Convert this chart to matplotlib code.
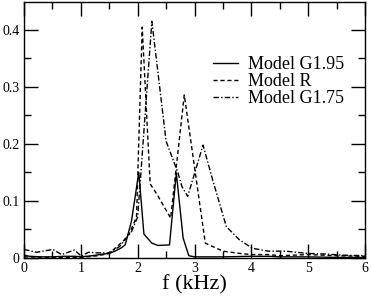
import numpy as np
import matplotlib
matplotlib.use('Agg')
import matplotlib.pyplot as plt
from matplotlib.ticker import MultipleLocator

# ═══ Data ═════════════════════════════════════════════════════════════════

f_g195 = [0.0, 0.1, 0.3, 0.5, 0.7, 0.9, 1.0, 1.2, 1.4, 1.5, 1.6, 1.7, 1.78,
          1.89, 2.02, 2.11, 2.25, 2.36, 2.56, 2.68, 2.8, 2.9, 3.0, 3.5, 4.0,
          4.3, 4.5, 5.0, 5.5, 6.0]
v_g195 = [0.005, 0.003, 0.002, 0.002, 0.003, 0.003, 0.002, 0.004, 0.007,
          0.008, 0.012, 0.017, 0.023, 0.064, 0.150, 0.042, 0.026, 0.022,
          0.023, 0.149, 0.035, 0.004, 0.002, 0.002, 0.003, 0.003, 0.002,
          0.002, 0.001, 0.001]

f_r = [0.0, 0.5, 1.0, 1.3, 1.5, 1.6, 1.75, 1.86, 1.98, 2.08, 2.22, 2.35,
       2.58, 2.82, 3.19, 3.5, 3.8, 4.0, 4.3, 4.5, 5.0, 5.5, 6.0]
v_r = [0.002, 0.001, 0.001, 0.004, 0.008, 0.017, 0.030, 0.044, 0.072,
       0.405, 0.130, 0.110, 0.070, 0.286, 0.026, 0.012, 0.008, 0.006,
       0.006, 0.004, 0.006, 0.004, 0.003]

f_g175 = [0.0, 0.22, 0.51, 0.66, 0.89, 1.01, 1.13, 1.3, 1.5, 1.68, 1.89,
          2.0, 2.25, 2.5, 2.71, 2.78, 2.88, 3.15, 3.32, 3.56, 3.79, 4.02,
          4.3, 4.6, 5.0, 5.3, 5.6, 6.0]
v_g175 = [0.015, 0.010, 0.015, 0.006, 0.014, 0.003, 0.010, 0.009, 0.009,
          0.020, 0.046, 0.072, 0.415, 0.205, 0.149, 0.125, 0.108, 0.198,
          0.137, 0.055, 0.032, 0.017, 0.012, 0.012, 0.008, 0.007, 0.005,
          0.004]

labels = ['Model G1.95', 'Model R', 'Model G1.75']

# ═══ Figure ═══════════════════════════════════════════════════════════════

plt.rcParams['font.family'] = ['Liberation Serif', 'DejaVu Serif']

fig = plt.figure(figsize=(3.71, 3.00), dpi=100)
ax = fig.add_axes([24/371, 42/300, 341/371, 256/300])

ax.plot(f_g195, v_g195, color='k', lw=1.0, ls='-', label=labels[0])
ax.plot(f_r, v_r, color='k', lw=1.0, ls=(0, (3, 2)), label=labels[1])
ax.plot(f_g175, v_g175, color='k', lw=1.0, ls=(0, (4, 1.5, 1, 1.5)),
        label=labels[2])

# ─── Plot options ─────────────────────────────────────────────────────────

ax.set_xlim(0, 6)
ax.set_ylim(0, 0.449)

ax.xaxis.set_major_locator(MultipleLocator(1))
ax.xaxis.set_minor_locator(MultipleLocator(0.5))
ax.yaxis.set_major_locator(MultipleLocator(0.1))
ax.yaxis.set_minor_locator(MultipleLocator(0.05))
ax.set_yticks([0, 0.1, 0.2, 0.3, 0.4])
ax.set_yticklabels(['0', '0.1', '0.2', '0.3', '0.4'])

ax.tick_params(which='both', direction='in', top=True, right=True,
               labelsize=10, width=1.0, pad=3)
ax.tick_params(which='major', length=10)
ax.tick_params(which='minor', length=5)
for s in ax.spines.values():
  s.set_linewidth(1.0)

ax.set_xlabel('f (kHz)', fontsize=16, labelpad=0)

ax.legend(loc='upper left', bbox_to_anchor=(0.528, 0.825), frameon=False,
          fontsize=13, handlelength=1.4, handletextpad=0.55,
          labelspacing=0.0, borderpad=0)

fig.savefig('out.png', dpi=100)
